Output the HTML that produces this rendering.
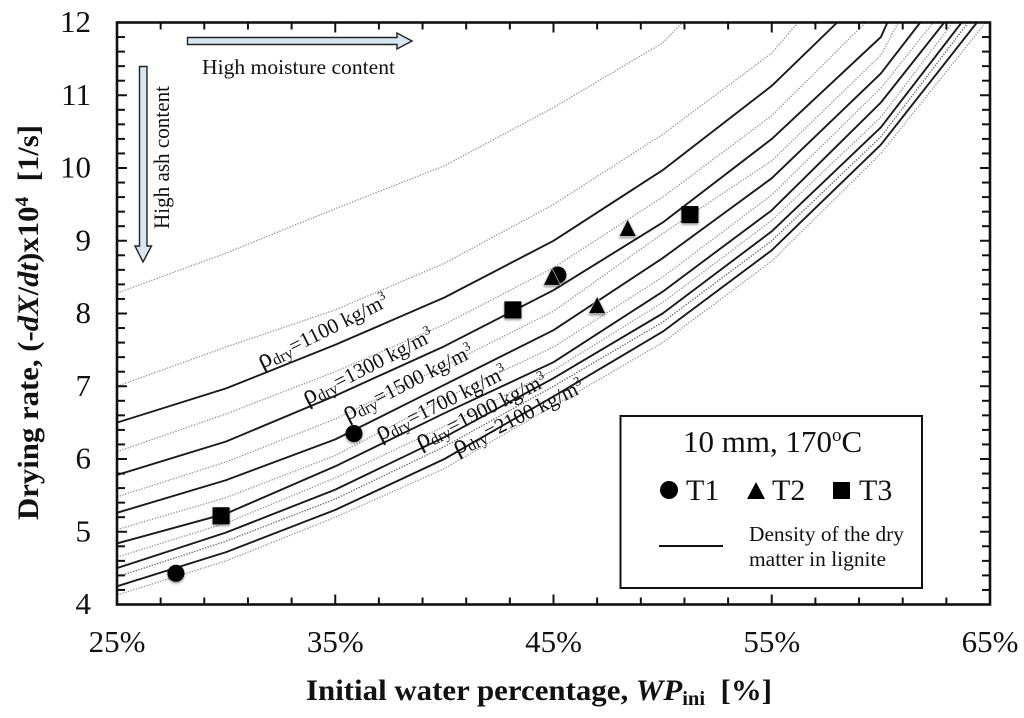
<!DOCTYPE html>
<html>
<head>
<meta charset="utf-8">
<style>
html,body{margin:0;padding:0;background:#fff;width:1024px;height:718px;overflow:hidden}
svg{display:block;filter:blur(0.35px)}
text{font-family:"Liberation Serif","Noto Serif CJK SC",serif;fill:#111}
</style>
</head>
<body>
<svg id="chart" width="1024" height="718" viewBox="0 0 1024 718" xmlns="http://www.w3.org/2000/svg">
  <defs>
    <clipPath id="plot-clip"><rect x="117" y="22.5" width="873" height="582"/></clipPath>
    <filter id="marker-shadow" x="-50%" y="-50%" width="200%" height="200%">
      <feDropShadow dx="0" dy="1.5" stdDeviation="1.3" flood-color="#000" flood-opacity="0.45"/>
    </filter>
  </defs>
  <rect x="0" y="0" width="1024" height="718" fill="#fff"/>
  <g id="curves" clip-path="url(#plot-clip)"></g>
  <g id="ticks"></g>
  <rect x="117" y="22.5" width="873" height="582" fill="none" stroke="#111" stroke-width="2.6"/>
  <g id="tick-labels"></g>

  <text x="306" y="700" font-size="30" font-weight="bold" textLength="466" lengthAdjust="spacingAndGlyphs">Initial water percentage, <tspan font-style="italic">WP</tspan><tspan font-size="20" dy="5">ini</tspan><tspan dy="-5" xml:space="preserve">  [%]</tspan></text>
  <text transform="translate(38,520) rotate(-90)" font-size="30" font-weight="bold" textLength="395" lengthAdjust="spacingAndGlyphs">Drying rate, (-<tspan font-style="italic">dX</tspan>/<tspan font-style="italic">dt</tspan>)x10<tspan font-size="19" dy="-10">4</tspan><tspan dy="10" xml:space="preserve">  [1/s]</tspan></text>

  <path d="M187.500,37.500H397V33L412,41L397,49V44.500H187.500Z" fill="#d6e6f3" stroke="#222" stroke-width="1.4"/>
  <text x="202" y="74" font-size="21" textLength="193" lengthAdjust="spacingAndGlyphs">High moisture content</text>
  <path d="M139.500,66.500V246H135L143,262L151.500,246H147V66.500Z" fill="#d6e6f3" stroke="#222" stroke-width="1.4"/>
  <text transform="translate(169,229) rotate(-90)" font-size="22" textLength="143" lengthAdjust="spacingAndGlyphs">High ash content</text>

  <g font-size="21">
    <text transform="translate(262,369) rotate(-26.5)"><tspan font-size="27">ρ</tspan><tspan font-size="16" dy="3">dry</tspan><tspan dy="-3" xml:space="preserve">=1100 kg/m</tspan><tspan font-size="13" dy="-8">3</tspan></text>
    <text transform="translate(307,405) rotate(-27)"><tspan font-size="27">ρ</tspan><tspan font-size="16" dy="3">dry</tspan><tspan dy="-3" xml:space="preserve">=1300 kg/m</tspan><tspan font-size="13" dy="-8">3</tspan></text>
    <text transform="translate(347,421) rotate(-27)"><tspan font-size="27">ρ</tspan><tspan font-size="16" dy="3">dry</tspan><tspan dy="-3" xml:space="preserve">=1500 kg/m</tspan><tspan font-size="13" dy="-8">3</tspan></text>
    <text transform="translate(380,441) rotate(-26.5)"><tspan font-size="27">ρ</tspan><tspan font-size="16" dy="3">dry</tspan><tspan dy="-3" xml:space="preserve">=1700 kg/m</tspan><tspan font-size="13" dy="-8">3</tspan></text>
    <text transform="translate(420,449) rotate(-26.5)"><tspan font-size="27">ρ</tspan><tspan font-size="16" dy="3">dry</tspan><tspan dy="-3" xml:space="preserve">=1900 kg/m</tspan><tspan font-size="13" dy="-8">3</tspan></text>
    <text transform="translate(457,455) rotate(-26.5)"><tspan font-size="27">ρ</tspan><tspan font-size="16" dy="3">dry</tspan><tspan dy="-3" xml:space="preserve">=2100 kg/m</tspan><tspan font-size="13" dy="-8">3</tspan></text>
  </g>

  <g id="markers"></g>

  <g>
    <rect x="620.500" y="416" width="301.500" height="172" fill="#fff" stroke="#111" stroke-width="2"/>
    <text x="683" y="452" font-size="31">10 mm, 170<tspan font-size="19" dy="-11">o</tspan><tspan dy="11">C</tspan></text>
    <circle cx="669" cy="490" r="9" fill="#000"/>
    <text x="686" y="500" font-size="30">T1</text>
    <path d="M756,482L765,499H747Z" fill="#000"/>
    <text x="772" y="500" font-size="30">T2</text>
    <rect x="833" y="482" width="17" height="17" fill="#000"/>
    <text x="859" y="500" font-size="30">T3</text>
    <line x1="659" x2="723" y1="546" y2="546" stroke="#111" stroke-width="2"/>
    <text x="749" y="541" font-size="21" textLength="155" lengthAdjust="spacingAndGlyphs">Density of the dry</text>
    <text x="749" y="566" font-size="21" textLength="137" lengthAdjust="spacingAndGlyphs">matter in lignite</text>
  </g>
</svg>
<script>
// ---- chart data ----
const wpGrid = [25, 30, 35, 40, 45, 50, 55, 60];
const xTickLabels = ['25%', '35%', '45%', '55%', '65%'];
const xTickValues = [25, 35, 45, 55, 65];
const yTickLabels = ['4', '5', '6', '7', '8', '9', '10', '11', '12'];
const yTickValues = [4, 5, 6, 7, 8, 9, 10, 11, 12];

const rho1100 = [6.50, 6.97, 7.57, 8.22, 9.00, 9.97, 11.13];
const rho1300 = [5.78, 6.24, 6.87, 7.55, 8.32, 9.25, 10.40, 11.80];
const rho1500 = [5.26, 5.71, 6.27, 7.02, 7.77, 8.76, 9.86, 11.30];
const rho1700 = [4.84, 5.25, 5.90, 6.63, 7.33, 8.30, 9.42, 10.90];
const rho1900 = [4.50, 4.99, 5.58, 6.30, 7.11, 8.00, 9.13, 10.56];
const rho2100 = [4.25, 4.72, 5.30, 6.00, 6.86, 7.75, 8.87, 10.32];
const solidTopWp = [58.0, 60.3, 61.8, 62.9, 63.7, 64.4];

const dotted0 = [8.28, 8.83, 9.44, 10.03, 10.83, 11.72];
const dotted1 = [7.00, 7.54, 8.05, 8.69, 9.50, 10.46, 11.58];
const dotted2 = [6.10, 6.62, 7.20, 7.85, 8.63, 9.60, 10.72];
const dotted3 = [5.48, 5.96, 6.55, 7.28, 8.03, 9.10, 10.10, 11.55];
const dotted4 = [5.03, 5.47, 6.05, 6.83, 7.54, 8.50, 9.63, 11.10];
const dotted5 = [4.65, 5.12, 5.74, 6.45, 7.22, 8.15, 9.28, 10.70];
const dotted6 = [4.38, 4.87, 5.45, 6.17, 7.00, 7.88, 9.00, 10.43];
const dotted7 = [4.13, 4.60, 5.20, 5.87, 6.73, 7.60, 8.72, 10.20];
const dottedTopWp = [50.9, 56.2, 59.3, 60.8, 62.4, 63.3, 64.0, 64.8];

const t1Wp = [27.7, 35.86, 45.2];
const t1Rate = [4.43, 6.35, 8.53];
const t2Wp = [44.93, 47.0, 48.4];
const t2Rate = [8.50, 8.11, 9.17];
const t3Wp = [29.77, 43.14, 51.25];
const t3Rate = [5.22, 8.05, 9.36];

// ---- axis functions ----
const xMin = 25, xMax = 65, yMin = 4, yMax = 12;
const pxLeft = 117, pxRight = 990, pxTop = 22.5, pxBottom = 604.5;
function xScale(v) { return pxLeft + (v - xMin) / (xMax - xMin) * (pxRight - pxLeft); }
function yScale(v) { return pxBottom - (v - yMin) / (yMax - yMin) * (pxBottom - pxTop); }

const NS = 'http://www.w3.org/2000/svg';
const curvesGroup = document.getElementById('curves');
const ticksGroup = document.getElementById('ticks');
const labelsGroup = document.getElementById('tick-labels');
const markersGroup = document.getElementById('markers');

function curvePoints(values, topWp) {
  const pts = values.map(function (v, i) { return xScale(wpGrid[i]).toFixed(1) + ',' + yScale(v).toFixed(1); });
  pts.push(xScale(topWp).toFixed(1) + ',' + yScale(yMax).toFixed(1));
  return pts.join(' ');
}

[dotted0, dotted1, dotted2, dotted3, dotted4, dotted5, dotted6, dotted7].forEach(function (series, i) {
  const el = document.createElementNS(NS, 'polyline');
  
  
  el.setAttribute('points', curvePoints(series, dottedTopWp[i]));
  el.setAttribute('fill', 'none');
  el.setAttribute('stroke', i === 6 ? '#666' : '#999');
  el.setAttribute('stroke-width', '1.3');
  el.setAttribute('stroke-dasharray', '1.4 1.4');
  curvesGroup.appendChild(el);
});

[rho1100, rho1300, rho1500, rho1700, rho1900, rho2100].forEach(function (series, i) {
  const el = document.createElementNS(NS, 'polyline');
  
  
  el.setAttribute('points', curvePoints(series, solidTopWp[i]));
  el.setAttribute('fill', 'none');
  el.setAttribute('stroke', '#1a1a1a');
  el.setAttribute('stroke-width', '1.9');
  el.setAttribute('stroke-linejoin', 'round');
  curvesGroup.appendChild(el);
});

// x ticks every 2 units, top and bottom
for (let k = 1; k < 20; k++) {
  const v = xMin + k * 2;
  const major = k % 5 === 0;
  const len = major ? 10 : 7;
  [[pxBottom, pxBottom - len], [pxTop, pxTop + len]].forEach(function (pair) {
    const el = document.createElementNS(NS, 'line');
    
    
    el.setAttribute('x1', xScale(v));
    el.setAttribute('x2', xScale(v));
    el.setAttribute('y1', pair[0]);
    el.setAttribute('y2', pair[1]);
    el.setAttribute('stroke', '#111');
    el.setAttribute('stroke-width', '2');
    ticksGroup.appendChild(el);
  });
}
// y ticks every 0.2 units, left and right
for (let k = 1; k < 40; k++) {
  const v = yMin + k * 0.2;
  const major = k % 5 === 0;
  const len = major ? 10 : 8;
  [[pxLeft, pxLeft + len], [pxRight, pxRight - len]].forEach(function (pair) {
    const el = document.createElementNS(NS, 'line');
    
    
    el.setAttribute('x1', pair[0]);
    el.setAttribute('x2', pair[1]);
    el.setAttribute('y1', yScale(v));
    el.setAttribute('y2', yScale(v));
    el.setAttribute('stroke', '#111');
    el.setAttribute('stroke-width', '2');
    ticksGroup.appendChild(el);
  });
}

xTickValues.forEach(function (v, i) {
  const el = document.createElementNS(NS, 'text');
  
  
  el.setAttribute('x', xScale(v));
  el.setAttribute('y', 652);
  el.setAttribute('font-size', '31');
  el.setAttribute('text-anchor', 'middle');
  el.textContent = xTickLabels[i];
  labelsGroup.appendChild(el);
});
yTickValues.forEach(function (v, i) {
  const el = document.createElementNS(NS, 'text');
  
  
  el.setAttribute('x', 91);
  el.setAttribute('y', yScale(v) + 9.5);
  el.setAttribute('font-size', '31');
  el.setAttribute('text-anchor', 'end');
  el.textContent = yTickLabels[i];
  labelsGroup.appendChild(el);
});

t1Wp.forEach(function (v, i) {
  const el = document.createElementNS(NS, 'circle');
  
  
  el.setAttribute('cx', xScale(v));
  el.setAttribute('cy', yScale(t1Rate[i]));
  el.setAttribute('r', 8.5);
  el.setAttribute('fill', '#000');
  el.setAttribute('filter', 'url(#marker-shadow)');
  markersGroup.appendChild(el);
});
t3Wp.forEach(function (v, i) {
  const el = document.createElementNS(NS, 'rect');
  
  
  el.setAttribute('x', xScale(v) - 8.5);
  el.setAttribute('y', yScale(t3Rate[i]) - 8.5);
  el.setAttribute('width', 17);
  el.setAttribute('height', 17);
  el.setAttribute('fill', '#000');
  el.setAttribute('filter', 'url(#marker-shadow)');
  markersGroup.appendChild(el);
});
t2Wp.forEach(function (v, i) {
  const cx = xScale(v), cy = yScale(t2Rate[i]);
  const el = document.createElementNS(NS, 'path');
  
  
  el.setAttribute('d', 'M' + cx + ',' + (cy - 9) + 'L' + (cx + 8.5) + ',' + (cy + 8) + 'H' + (cx - 8.5) + 'Z');
  el.setAttribute('fill', '#000');
  el.setAttribute('stroke', '#ddd');
  el.setAttribute('stroke-width', '0.6');
  el.setAttribute('filter', 'url(#marker-shadow)');
  markersGroup.appendChild(el);
});
</script>
</body>
</html>
